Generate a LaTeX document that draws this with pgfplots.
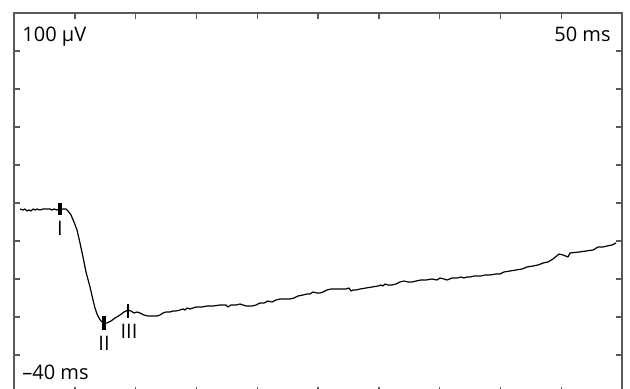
\documentclass[border=0pt]{standalone}
\usepackage{pgfplots}
\pgfplotsset{compat=1.18}
\usepackage{fontspec}
\setmainfont{Open Sans}
\begin{document}
\begin{tikzpicture}
\useasboundingbox (0,0) rectangle (315pt,194.5pt);
\clip (0,0) rectangle (315pt,194.5pt);
\begin{axis}[
  at={(7pt,188pt)}, anchor=north west,
  scale only axis, width=304pt, height=190pt,
  xmin=14, xmax=622, ymin=13, ymax=393, y dir=reverse,
  xtick={74.8,135.6,196.4,257.2,318,378.8,439.6,500.4,561.2},
  ytick={51,89,127,165,203,241,279,317,355},
  xticklabels={}, yticklabels={},
  tick align=inside, major tick length=3pt,
  tick style={black!65, line width=0.7pt},
  axis line style={black!65, line width=0.8pt},
  clip=false,
  every node/.style={font=\fontsize{8.8}{10}\selectfont, text=black!72},
]
\addplot[black, line width=0.6pt, line join=round] coordinates {
(20,209) (23,210) (25,209) (27,211) (29,210) (31,211) (33,209) (35,210) (37,209) (40,210) (43,209) (47,209) (50,209) (52,210) (54,209) (57,210) (60,209) (63,209) (66,209) (68,211) (71,215) (74,222) (77,230) (80,243) (83,257) (86,272) (90,287) (93,300) (95,308) (97,314) (99,318) (101,321) (104,323) (107,323) (111,321) (115,318) (120,315) (124,312) (128,310) (131,311) (134,313) (137,312) (140,313) (144,315) (148,316) (153,316) (157,316) (160,315) (163,313) (166,312) (170,312) (173,311) (176,311) (180,310) (183,309) (185,310) (187,308) (190,309) (193,308) (196,307) (199,307) (202,307) (207,306) (213,306) (220,305) (226,305) (228,307) (231,305) (236,305) (240,304) (243,305) (246,306) (252,306) (256,305) (260,303) (264,303) (268,301) (272,302) (276,300) (280,299) (285,299) (290,299) (294,298) (298,296) (303,295) (307,294) (310,294) (313,292) (317,293) (320,293) (323,292) (327,290) (331,289) (340,289) (346,289) (349,288) (351,291) (353,290) (356,290) (360,289) (366,288) (372,287) (378,286) (381,285) (383,286) (385,284) (388,285) (392,285) (396,284) (400,282) (404,281) (408,282) (412,282) (416,281) (421,280) (426,280) (432,279) (437,280) (440,278) (444,279) (447,280) (452,278) (457,278) (461,277) (464,278) (467,277) (470,277) (474,276) (478,276) (481,276) (485,275) (490,275) (496,274) (500,274) (504,272) (510,271) (516,270) (522,269) (527,267) (533,266) (538,265) (543,263) (548,262) (553,259) (559,254) (563,255) (568,257) (570,253) (579,252) (586,251) (593,250) (598,247) (603,247) (607,246) (612,245) (616,243)
};
\addplot[black, line width=1.6pt] coordinates {(60,203) (60,215)};
\addplot[black, line width=1.6pt] coordinates {(104,316) (104,330)};
\addplot[black, line width=0.9pt] coordinates {(128,304) (128,318)};
\node at (axis cs:60,228) {I};
\node at (axis cs:104,343) {II};
\node at (axis cs:129,331) {III};
\node[anchor=base west, inner sep=0pt] at (axis cs:22,42) {100 µV};
\node[anchor=base east, inner sep=0pt] at (axis cs:611,42) {50 ms};
\node[anchor=base west, inner sep=0pt] at (axis cs:22,379) {–40 ms};
\end{axis}
\end{tikzpicture}
\end{document}
